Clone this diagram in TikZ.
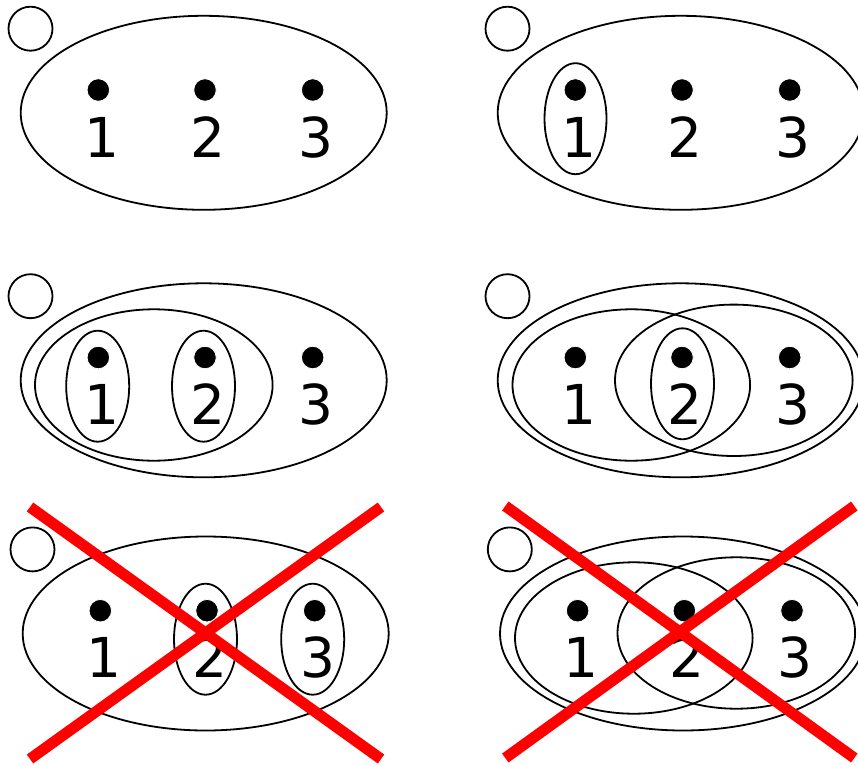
\documentclass[tikz,border=0pt]{standalone}
\usepackage{fontspec}
\newfontfamily\digitfont{DejaVu Sans}
\begin{document}
\begin{tikzpicture}[x=1pt,y=-1pt,
  outline/.style={draw=black,line width=1.8pt},
  dotmark/.style={circle,fill=black,draw=white,line width=0.8pt,minimum size=22.5pt,inner sep=0pt},
  digit/.style={font=\digitfont\fontsize{55}{55}\selectfont,anchor=base,inner sep=0pt},
  cross/.style={draw=red,line width=11pt},
  panel/.pic={
    \draw[outline] (30.5,28.7) circle[radius=22];
    \draw[outline] (203.7,112.8) ellipse[x radius=183,y radius=97];
    \node[dotmark] (d1) at (98.3,90) {};
    \node[dotmark] (d2) at (205,90) {};
    \node[dotmark] (d3) at (312.7,90) {};
    \node[digit] (n1) at (101.5,157) {1};
    \node[digit] (n2) at (208,157) {2};
    \node[digit] (n3) at (316,157) {3};
  }]
\useasboundingbox (0,0) rectangle (858,765);
\clip (0,0) rectangle (858,765);
\fill[white] (0,0) rectangle (858,765);

% row 1, left
\pic (a) at (0,0) {panel};

% row 1, right
\begin{scope}[shift={(477,0)}]
  \pic (b) at (0,0) {panel};
  \draw[outline] (98.5,118.7) ellipse[x radius=31,y radius=55.5];
\end{scope}

% row 2, left
\begin{scope}[shift={(0,267.5)}]
  \pic (c) at (0,0) {panel};
  \draw[outline] (153.8,117.5) ellipse[x radius=118.8,y radius=75.7];
  \draw[outline] (97.7,118.7) ellipse[x radius=31.5,y radius=55.5];
  \draw[outline] (203.5,118.7) ellipse[x radius=31.5,y radius=55.5];
\end{scope}

% row 2, right
\begin{scope}[shift={(477,267.5)}]
  \pic (d) at (0,0) {panel};
  \draw[outline] (154.3,117.5) ellipse[x radius=118.8,y radius=75.7];
  \draw[outline] (256.8,112.8) ellipse[x radius=118.8,y radius=75.7];
  \draw[outline] (205.5,116.3) ellipse[x radius=31.5,y radius=55.5];
\end{scope}

% row 3, left
\begin{scope}[shift={(2,520.7)}]
  \pic (e) at (0,0) {panel};
  \draw[outline] (203.5,118.5) ellipse[x radius=31.5,y radius=55.5];
  \draw[outline] (310.7,118.5) ellipse[x radius=31.5,y radius=55.5];
  \draw[cross] (28,-13.7) -- (379,238.3);
  \draw[cross] (379,-13.7) -- (28,238.3);
\end{scope}

% row 3, right
\begin{scope}[shift={(479.3,520.7)}]
  \pic (f) at (0,0) {panel};
  \draw[outline] (154.5,117.3) ellipse[x radius=118.8,y radius=75.7];
  \draw[outline] (257,112.3) ellipse[x radius=118.8,y radius=75.7];
  \draw[cross] (26,-14.7) -- (375,237.3);
  \draw[cross] (375,-14.7) -- (26,237.3);
\end{scope}
\end{tikzpicture}
\end{document}
